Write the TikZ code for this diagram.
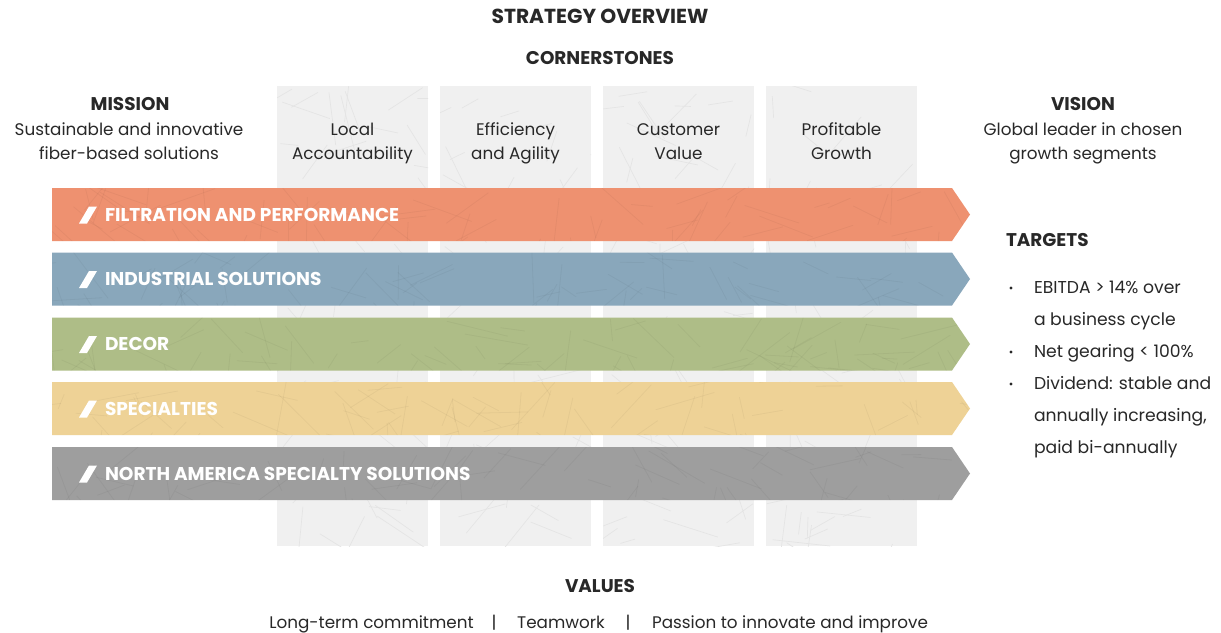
\documentclass[tikz,border=0pt]{standalone}
\usepackage{fontspec}
\setmainfont{Poppins}
\definecolor{corange}{RGB}{238,145,112}
\definecolor{cblue}{RGB}{137,167,187}
\definecolor{cgreen}{RGB}{174,189,135}
\definecolor{cyellow}{RGB}{238,210,150}
\definecolor{cgray}{RGB}{158,158,158}
\definecolor{ccol}{RGB}{240,240,240}
\definecolor{ctex}{RGB}{228,228,228}
\definecolor{ctext}{RGB}{40,40,40}
\begin{document}
\begin{tikzpicture}[x=0.75pt,y=-0.75pt,
  every node/.style={inner sep=0pt, outer sep=0pt, text=ctext},
  title/.style={font=\fontsize{15.2pt}{17pt}\selectfont\bfseries, anchor=base},
  head/.style={font=\fontsize{13.8pt}{16pt}\selectfont\bfseries, anchor=base},
  body/.style={font=\fontsize{12.6pt}{18pt}\selectfont, align=center, anchor=base},
  colbox/.style={fill=ccol, draw=none, minimum width=151*0.75pt, minimum height=460*0.75pt},
  seglabel/.style={anchor=west, text=white, font=\fontsize{13.9pt}{16pt}\selectfont\bfseries},
  tgt/.style={anchor=base west, font=\fontsize{12.9pt}{14pt}\selectfont},
  val/.style={anchor=base, font=\fontsize{12.6pt}{14pt}\selectfont},
]
\useasboundingbox (0,0) rectangle (1221,632);
\fill[white] (0,0) rectangle (1221,632);
\pgfmathsetseed{4242}

% titles
\node[title] (title) at (600,23) {STRATEGY OVERVIEW};
\node[head] (corner) at (600,64) {CORNERSTONES};

% cornerstone columns with faint fibre texture
\foreach \x/\n in {352.5/c1,515.5/c2,678.5/c3,841.5/c4}{
  \node[colbox] (\n) at (\x,316) {};
  \begin{scope}
    \clip (\n.north west) rectangle (\n.south east);
    \foreach \i in {1,...,60}{
      \pgfmathsetmacro\xa{\x-80+rnd*160}
      \pgfmathsetmacro\ya{80+rnd*470}
      \pgfmathsetmacro\an{rnd*180}
      \pgfmathsetmacro\le{15+rnd*45}
      \draw[ctex, line width=0.5pt] (\xa,\ya) -- ++(\an:\le);
    }
  \end{scope}
}
% multi-line nodes: base anchor = baseline of the last line
\node[body] (t1) at (352.5,159) {Local\\Accountability};
\node[body] (t2) at (515.5,159) {Efficiency\\and Agility};
\node[body] (t3) at (678.5,159) {Customer\\Value};
\node[body] (t4) at (841.5,159) {Profitable\\Growth};

% mission / vision
\node[head] (mission) at (130,110) {MISSION};
\node[body] (missiont) at (129,159) {Sustainable and innovative\\fiber-based solutions};
\node[head] (vision) at (1083,110) {VISION};
\node[body] (visiont) at (1083,159) {Global leader in chosen\\growth segments};

% segment arrows
\foreach \cy/\c/\lab/\n in {214.5/corange/FILTRATION AND PERFORMANCE/s1,
                         279/cblue/INDUSTRIAL SOLUTIONS/s2,
                         344/cgreen/DECOR/s3,
                         408.5/cyellow/SPECIALTIES/s4,
                         473.5/cgray/NORTH AMERICA SPECIALTY SOLUTIONS/s5}{
  \fill[\c] (52,\cy-26.5) -- (952,\cy-26.5) -- (970,\cy) -- (952,\cy+26.5) -- (52,\cy+26.5) -- cycle;
  \begin{scope}
    \clip (52,\cy-26.5) -- (952,\cy-26.5) -- (970,\cy) -- (952,\cy+26.5) -- (52,\cy+26.5) -- cycle;
    \foreach \i in {1,...,80}{
      \pgfmathsetmacro\xa{40+rnd*930}
      \pgfmathsetmacro\ya{\cy-32+rnd*64}
      \pgfmathsetmacro\an{rnd*180}
      \pgfmathsetmacro\le{15+rnd*50}
      \draw[black, opacity=0.04, line width=0.6pt] (\xa,\ya) -- ++(\an:\le);
    }
  \end{scope}
  \fill[white] (79,\cy+9) -- (87,\cy+9) -- (97,\cy-8) -- (89,\cy-8) -- cycle;
  \node[seglabel] (\n) at (105,\cy) {\lab};
}

% targets
\node[head, anchor=base west] (targets) at (1006,246) {TARGETS};
\foreach \y/\txt/\b in {293/EBITDA > 14\% over/1, 325/a business cycle/0, 357/Net gearing < 100\%/1,
                        389/Dividend: stable and/1, 421/{annually increasing,}/0, 453/paid bi-annually/0}{
  \node[tgt] at (1034,\y) {\txt};
  \ifnum\b=1 \fill[ctext] (1011,\y-5) circle (1.7); \fi
}

% values
\node[head] (values) at (600,592) {VALUES};
\node[val] (v1) at (371.5,628) {Long-term commitment};
\node[val] (vs1) at (494,628) {|};
\node[val] (v2) at (561,628) {Teamwork};
\node[val] (vs2) at (628,628) {|};
\node[val] (v3) at (790,628) {Passion to innovate and improve};
\end{tikzpicture}
\end{document}
